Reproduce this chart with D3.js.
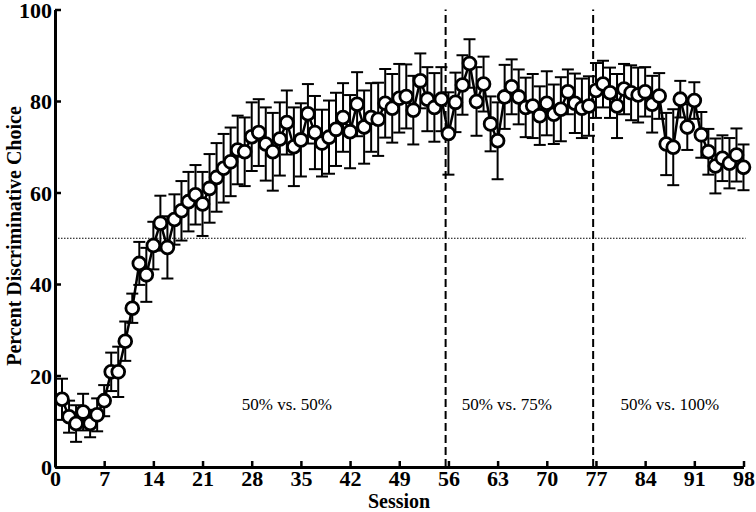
<!DOCTYPE html>
<html>
<head>
<meta charset="utf-8">
<script src="https://cdn.jsdelivr.net/npm/d3@7"></script>
<style>
  html, body { margin: 0; padding: 0; background: #fff; }
  svg { display: block; }
  text { font-family: "Liberation Serif", "Times New Roman", serif; }
</style>
</head>
<body>
<svg id="chart" width="756" height="512"></svg>
<script>
// ---- data ----
const sessions = d3.range(1, 99);
const meanChoice = [
  14.8, 11.0, 9.5, 12.0, 9.5, 11.4, 14.5, 20.8, 20.8, 27.5,
  34.7, 44.5, 42.0, 48.4, 53.3, 48.0, 54.1, 56.0, 58.0, 59.5,
  57.5, 60.9, 63.3, 65.3, 66.7, 69.3, 68.9, 72.2, 73.1, 70.6,
  68.9, 71.7, 75.3, 70.0, 71.5, 77.2, 73.1, 70.8, 72.1, 73.8,
  76.4, 73.3, 79.3, 74.3, 76.4, 76.0, 79.5, 78.4, 80.6, 81.0,
  78.0, 84.4, 80.4, 78.6, 80.4, 72.9, 79.7, 83.5, 88.2, 79.9,
  83.7, 75.0, 71.3, 80.9, 83.1, 80.9, 78.6, 78.9, 76.8, 79.5,
  77.1, 78.2, 82.0, 79.5, 78.4, 78.9, 82.3, 83.7, 81.8, 78.9,
  82.6, 81.8, 81.3, 82.0, 79.3, 81.1, 70.6, 69.9, 80.4, 74.3,
  80.1, 72.6, 68.9, 65.8, 67.5, 66.4, 68.2, 65.5
];
const sem = [
  4.5, 3.5, 4.0, 4.0, 3.0, 3.6, 3.4, 4.2, 5.5, 4.3,
  3.2, 4.7, 5.9, 5.2, 6.0, 6.8, 5.5, 6.5, 6.5, 6.5,
  7.0, 7.5, 7.5, 7.5, 7.5, 7.5, 7.5, 7.5, 7.3, 8.0,
  8.5, 8.0, 7.0, 8.6, 8.0, 6.5, 8.0, 7.3, 8.0, 8.0,
  7.5, 8.0, 7.0, 8.0, 7.5, 8.0, 7.5, 7.5, 7.5, 7.0,
  7.5, 6.0, 7.0, 7.5, 7.0, 9.0, 6.5, 6.5, 5.3, 7.5,
  6.0, 6.0, 8.4, 7.0, 6.0, 6.0, 6.5, 7.0, 6.4, 7.0,
  6.5, 7.0, 4.9, 6.5, 6.5, 6.5, 6.0, 5.1, 5.5, 7.0,
  5.5, 6.0, 6.0, 5.4, 6.2, 5.0, 6.8, 8.3, 4.0, 5.0,
  4.0, 5.0, 5.0, 6.0, 5.0, 5.5, 5.8, 5.0
];
const xTicks = [0, 7, 14, 21, 28, 35, 42, 49, 56, 63, 70, 77, 84, 91, 98];
const yTicks = [0, 20, 40, 60, 80, 100];
const phaseBoundaries = [55.6, 76.6];
const chanceLevel = 50;
const phaseLabels = ["50% vs. 50%", "50% vs. 75%", "50% vs. 100%"];
const phaseLabelCenters = [33, 64.3, 87.5];   // session units
const phaseLabelLevel = 12.5;                 // percent units

// ---- layout ----
const svg = d3.select("#chart");
const x = d3.scaleLinear().domain([0, 98]).range([55, 743.5]);
const y = d3.scaleLinear().domain([0, 100]).range([467, 9.5]);

const data = sessions.map((s, i) => ({ s, m: meanChoice[i], e: sem[i] }));

// chance line
svg.append("line")
  .attr("x1", x(0)).attr("x2", x(98.3))
  .attr("y1", y(chanceLevel)).attr("y2", y(chanceLevel))
  .attr("stroke", "#000").attr("stroke-width", 1)
  .attr("stroke-dasharray", "1.5,1.5");

// phase boundaries
svg.selectAll("line.phase").data(phaseBoundaries).enter().append("line")
  .attr("class", "phase")
  .attr("x1", d => x(d)).attr("x2", d => x(d))
  .attr("y1", y(0)).attr("y2", y(100))
  .attr("stroke", "#000").attr("stroke-width", 2)
  .attr("stroke-dasharray", "8,4");

// phase labels
svg.selectAll("text.phase").data(phaseLabels).enter().append("text")
  .attr("class", "phase")
  .attr("x", (d, i) => x(phaseLabelCenters[i]))
  .attr("y", y(phaseLabelLevel))
  .attr("text-anchor", "middle")
  .attr("font-size", 17)
  .text(d => d);

// error bars
const capW = 6;
const eb = svg.append("g").attr("stroke", "#000").attr("stroke-width", 2);
data.forEach(d => {
  const cx = x(d.s);
  eb.append("line").attr("x1", cx).attr("x2", cx)
    .attr("y1", y(d.m - d.e)).attr("y2", y(d.m + d.e));
  eb.append("line").attr("x1", cx - capW).attr("x2", cx + capW)
    .attr("y1", y(d.m + d.e)).attr("y2", y(d.m + d.e));
  eb.append("line").attr("x1", cx - capW).attr("x2", cx + capW)
    .attr("y1", y(d.m - d.e)).attr("y2", y(d.m - d.e));
});

// line
svg.append("path").datum(data)
  .attr("fill", "none").attr("stroke", "#000").attr("stroke-width", 2.5)
  .attr("d", d3.line().x(d => x(d.s)).y(d => y(d.m)));

// markers
svg.selectAll("circle.pt").data(data).enter().append("circle")
  .attr("class", "pt")
  .attr("cx", d => x(d.s)).attr("cy", d => y(d.m))
  .attr("r", 6.4)
  .attr("fill", "#fff").attr("stroke", "#000").attr("stroke-width", 2.8);

// axes
const xAxis = svg.append("g").attr("transform", `translate(0,${y(0)})`)
  .call(d3.axisBottom(x).tickValues(xTicks).tickSizeInner(-6).tickSizeOuter(0).tickPadding(3));
const yAxis = svg.append("g").attr("transform", `translate(${x(0)},0)`)
  .call(d3.axisLeft(y).tickValues(yTicks).tickSizeInner(-6).tickSizeOuter(0).tickPadding(3));

[xAxis, yAxis].forEach(g => {
  g.select(".domain").attr("stroke", "#000").attr("stroke-width", 3);
  g.selectAll(".tick line").attr("stroke", "#000").attr("stroke-width", 2.5);
  g.selectAll(".tick text")
    .attr("fill", "#000")
    .attr("font-family", "'Liberation Serif', 'Times New Roman', serif")
    .attr("font-weight", "bold")
    .attr("font-size", 22);
});
yAxis.selectAll(".tick text").attr("dy", "0.36em");

// axis titles
svg.append("text")
  .attr("x", 399).attr("y", 508)
  .attr("text-anchor", "middle")
  .attr("font-weight", "bold").attr("font-size", 20)
  .text("Session");
svg.append("text")
  .attr("transform", "translate(21,236) rotate(-90)")
  .attr("text-anchor", "middle")
  .attr("font-weight", "bold").attr("font-size", 20)
  .text("Percent Discriminative Choice");
</script>
</body>
</html>
